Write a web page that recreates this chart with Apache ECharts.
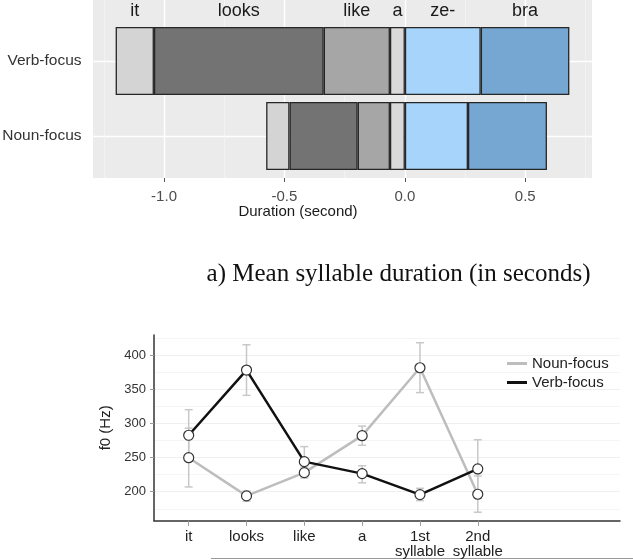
<!DOCTYPE html>
<html>
<head>
<meta charset="utf-8">
<script src="https://cdn.jsdelivr.net/npm/echarts@6/dist/echarts.min.js"></script>
<style>html,body{margin:0;padding:0;background:#fff}#c{width:633px;height:560px}</style>
</head>
<body>
<div id="c"></div>
<script>
// ---- Top chart: mean syllable duration (seconds), aligned at onset of "ze-"
var syllables = ['it', 'looks', 'like', 'a', 'ze-', 'bra'];
var focusCats = ['Verb-focus', 'Noun-focus'];
var verbDur = [-0.159, -0.705, -0.275, -0.062, 0.315, 0.368];
var nounDur = [-0.097, -0.283, -0.134, -0.062, 0.262, 0.328];
var durTicks = [-1.0, -0.5, 0.0, 0.5];
var durMinorTicks = [-1.25, -0.75, -0.25, 0.25, 0.75];
var sylColors = ['#d4d4d4', '#737373', '#a6a6a6', '#d9d9d9', '#a6d4fa', '#76a7d3'];

// ---- Bottom chart: f0 (Hz)
var f0Cats = ['it', 'looks', 'like', 'a', '1st\nsyllable', '2nd\nsyllable'];
var f0Noun = [249.8, 193.9, 227.9, 282.0, 381.4, 196.3];
var f0Verb = [282.6, 378.0, 244.0, 226.5, 195.8, 233.3];
var f0NounLow = [207, 186, 220, 268, 345, 170];
var f0NounHigh = [293, 201, 236, 296, 418, 223];
var f0VerbLow = [246, 341, 222, 213, 187, 191];
var f0VerbHigh = [320, 415, 266, 238, 205, 276];
var f0Ticks = [200, 250, 300, 350, 400];
var f0MinorTicks = [175, 225, 275, 325, 375, 425];

var chart = echarts.init(document.getElementById('c'), null, {renderer: 'canvas'});

var stackOrder = [3, 2, 1, 0, 4, 5];
var barSeries = stackOrder.map(function (i) {
  return {
    type: 'bar', name: syllables[i], stack: 'dur',
    xAxisIndex: 2, yAxisIndex: 1,
    barWidth: 68,
    itemStyle: {color: sylColors[i], borderColor: '#262626', borderWidth: 1.3},
    label: {show: false, position: 'top', distance: 7, fontSize: 18, color: '#1a1a1a',
            formatter: function (p) { return p.seriesName; }},
    emphasis: {disabled: true},
    data: [{value: verbDur[i], label: {show: true}}, nounDur[i]]
  };
});

function errRender(color) {
  return function (params, api) {
    var x = api.value(0), lo = api.value(1), hi = api.value(2);
    var p1 = api.coord([x, lo]), p2 = api.coord([x, hi]);
    var w = 4;
    var st = {stroke: color, lineWidth: 1.5};
    return {type: 'group', children: [
      {type: 'line', shape: {x1: p1[0], y1: p1[1], x2: p2[0], y2: p2[1]}, style: st},
      {type: 'line', shape: {x1: p1[0] - w, y1: p1[1], x2: p1[0] + w, y2: p1[1]}, style: st},
      {type: 'line', shape: {x1: p2[0] - w, y1: p2[1], x2: p2[0] + w, y2: p2[1]}, style: st}
    ]};
  };
}
function errData(lo, hi) { return lo.map(function (v, i) { return [i + 1, v, hi[i]]; }); }
function ptData(arr) { return arr.map(function (v, i) { return [i + 1, v]; }); }

var option = {
  animation: false,
  textStyle: {fontFamily: 'Liberation Sans, Arial, sans-serif'},
  grid: [
    {left: 93, top: 0, width: 499, height: 178, show: true, backgroundColor: '#ebebeb', borderWidth: 0,
     containLabel: false, outerBoundsMode: 'none'},
    {left: 93, top: 23.5, width: 499, height: 150, containLabel: false, outerBoundsMode: 'none'},
    {left: 154, top: 335, width: 466, height: 185.7, containLabel: false, outerBoundsMode: 'none'}
  ],
  xAxis: [
    {gridIndex: 0, type: 'value', min: -1.295, max: 0.777,
     axisLine: {show: false},
     axisTick: {show: true, customValues: durTicks, length: 4, lineStyle: {color: '#555'}},
     axisLabel: {customValues: durTicks, formatter: function (v) { return v.toFixed(1); },
                 fontSize: 15, color: '#4d4d4d', margin: 11},
     splitLine: {show: true, lineStyle: {color: '#ffffff', width: 1.4}}},
    {gridIndex: 0, type: 'value', min: -1.295, max: 0.777,
     axisLine: {show: false},
     axisTick: {show: false, customValues: durMinorTicks},
     axisLabel: {show: false},
     splitLine: {show: true, lineStyle: {color: '#f7f7f7', width: 0.6}}},
    {gridIndex: 1, type: 'value', min: -1.295, max: 0.777,
     show: false},
    {gridIndex: 2, type: 'value', min: 0.4, max: 8.46,
     axisLine: {show: true, lineStyle: {color: '#333', width: 1.5}},
     axisTick: {show: true, customValues: [1, 2, 3, 4, 5, 6], length: 5, lineStyle: {color: '#999'}},
     axisLabel: {customValues: [1, 2, 3, 4, 5, 6], formatter: function (v) { return f0Cats[v - 1]; },
                 fontSize: 15, color: '#222', margin: 9, lineHeight: 15},
     splitLine: {show: false}}
  ],
  yAxis: [
    {gridIndex: 0, type: 'value', min: 0.1867, max: 2.56, inverse: true,
     axisLine: {show: false},
     axisTick: {show: false, customValues: [1, 2]},
     axisLabel: {show: false},
     splitLine: {show: true, lineStyle: {color: '#ffffff', width: 1.4}}},
    {gridIndex: 1, type: 'category', data: focusCats, inverse: true,
     axisLine: {show: false},
     axisTick: {show: true, alignWithLabel: true, length: 5, lineStyle: {color: '#555'}},
     axisLabel: {fontSize: 15.5, color: '#333', margin: 11.5},
     splitLine: {show: false}},
    {gridIndex: 2, type: 'value', min: 157.6, max: 429.3,
     name: 'f0 (Hz)', nameLocation: 'middle', nameGap: 31,
     nameTextStyle: {fontSize: 15, color: '#222'},
     axisLine: {show: true, lineStyle: {color: '#333', width: 1.5}},
     axisTick: {show: true, customValues: f0Ticks, length: 4, lineStyle: {color: '#999'}},
     axisLabel: {customValues: f0Ticks, fontSize: 13, color: '#333', margin: 8},
     splitLine: {show: true, lineStyle: {color: '#efefef', width: 1}}},
    {gridIndex: 2, type: 'value', min: 157.6, max: 429.3,
     axisLine: {show: false},
     axisTick: {show: false, customValues: f0MinorTicks},
     axisLabel: {show: false},
     splitLine: {show: true, lineStyle: {color: '#f5f5f5', width: 1}}}
  ],
  legend: {
    orient: 'vertical', left: 507, top: 355, itemWidth: 20, itemHeight: 3, itemGap: 2,
    icon: 'rect', padding: 0,
    textStyle: {fontSize: 15, color: '#222', lineHeight: 17},
    data: [
      {name: 'Noun-focus', itemStyle: {color: '#bdbdbd', borderWidth: 0}},
      {name: 'Verb-focus', itemStyle: {color: '#111', borderWidth: 0}}
    ]
  },
  graphic: [
    {type: 'text', x: 298, y: 211.5, silent: true,
     style: {text: 'Duration (second)', fontSize: 15, fontFamily: 'Liberation Sans, Arial, sans-serif',
             fill: '#1a1a1a', align: 'center', verticalAlign: 'middle'}},
    {type: 'text', x: 398.5, y: 274, silent: true,
     style: {text: 'a) Mean syllable duration (in seconds)', fontSize: 25,
             fontFamily: 'Liberation Serif, Times New Roman, serif',
             fill: '#111', align: 'center', verticalAlign: 'middle'}},
    {type: 'line', silent: true, shape: {x1: 211, y1: 558.5, x2: 633, y2: 558.5},
     style: {stroke: '#9a9a9a', lineWidth: 1}}
  ],
  series: barSeries.concat([
    {type: 'custom', name: 'Noun-focus err', xAxisIndex: 3, yAxisIndex: 2,
     renderItem: errRender('#c8c8c8'), encode: {x: 0, y: [1, 2]}, silent: true, z: 1,
     data: errData(f0NounLow, f0NounHigh)},
    {type: 'custom', name: 'Verb-focus err', xAxisIndex: 3, yAxisIndex: 2,
     renderItem: errRender('#c8c8c8'), encode: {x: 0, y: [1, 2]}, silent: true, z: 1,
     data: errData(f0VerbLow, f0VerbHigh)},
    {type: 'line', name: 'Noun-focus', xAxisIndex: 3, yAxisIndex: 2, z: 3,
     lineStyle: {color: '#bdbdbd', width: 2.5},
     symbol: 'circle', symbolSize: 10,
     itemStyle: {color: '#ffffff', borderColor: '#333', borderWidth: 1.2},
     emphasis: {disabled: true},
     data: ptData(f0Noun)},
    {type: 'line', name: 'Verb-focus', xAxisIndex: 3, yAxisIndex: 2, z: 4,
     lineStyle: {color: '#111', width: 2.5},
     symbol: 'circle', symbolSize: 10,
     itemStyle: {color: '#ffffff', borderColor: '#333', borderWidth: 1.2},
     emphasis: {disabled: true},
     data: ptData(f0Verb)}
  ])
};
chart.setOption(option);
</script>
</body>
</html>
